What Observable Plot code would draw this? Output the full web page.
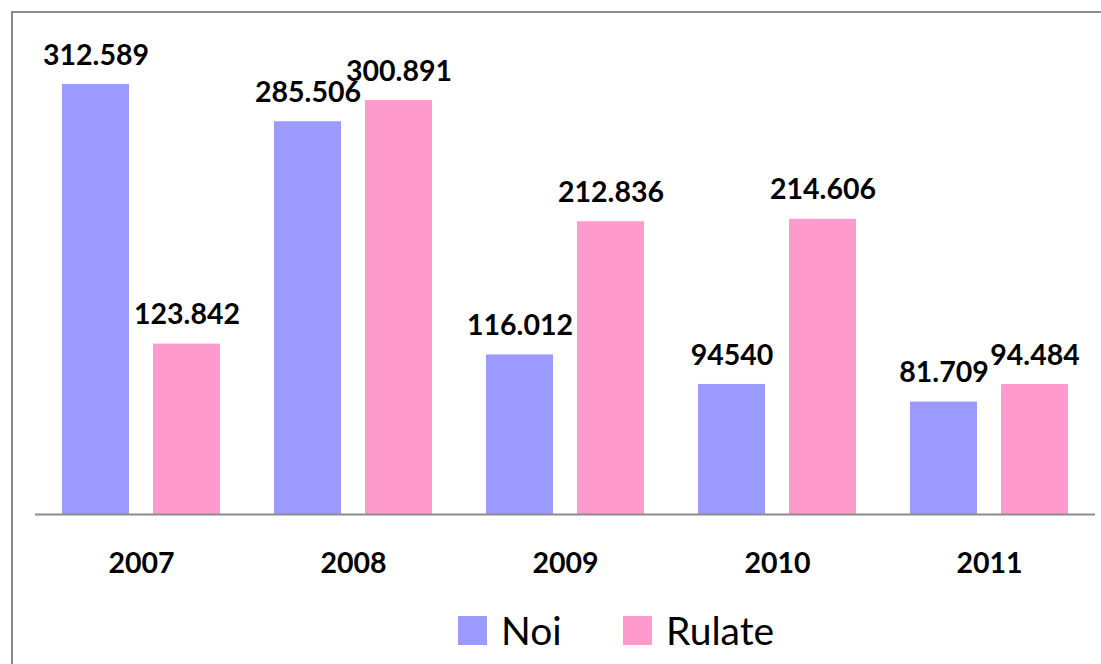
<!DOCTYPE html>
<html>
<head>
<meta charset="utf-8">
<script src="https://cdn.jsdelivr.net/npm/d3@7"></script>
<script src="https://cdn.jsdelivr.net/npm/@observablehq/plot@0.6"></script>
<style>
  html, body { margin: 0; padding: 0; background: #fff; overflow: hidden; }
  body { width: 1101px; height: 664px; position: relative; font-family: Lato, "Open Sans", sans-serif; }
  #frame { position: absolute; left: 11px; top: 11px; width: 1200px; height: 800px;
           border-left: 2px solid #8c8c8c; border-top: 2px solid #8c8c8c; pointer-events: none; }
  #legend { position: relative; height: 64px; width: 1101px; }
  .sw { position: absolute; width: 29px; height: 29px; top: 16px; }
  .lt { position: absolute; top: 7px; font-size: 39px; line-height: 46px; color: #000; }
</style>
</head>
<body>
<div id="chart"></div>
<div id="legend"></div>
<div id="frame"></div>
<script>
const years = ["2007", "2008", "2009", "2010", "2011"];
const series = ["Noi", "Rulate"];
const noiValues = [312.589, 285.506, 116.012, 94.540, 81.709];
const rulateValues = [123.842, 300.891, 212.836, 214.606, 94.484];
const noiLabels = ["312.589", "285.506", "116.012", "94540", "81.709"];
const rulateLabels = ["123.842", "300.891", "212.836", "214.606", "94.484"];
const colors = ["#9b9bff", "#ff9bcc"];

const data = [];
years.forEach((y, i) => {
  data.push({year: y, series: "Noi", value: noiValues[i], label: noiLabels[i]});
  data.push({year: y, series: "Rulate", value: rulateValues[i], label: rulateLabels[i]});
});

const font = "Lato, 'Open Sans', sans-serif";

const chart = Plot.plot({
  width: 1101,
  height: 600,
  marginLeft: 33,
  marginRight: 5,
  marginTop: 32.5,
  marginBottom: 86,
  style: {fontFamily: font, background: "transparent"},
  fx: {domain: years, padding: 0, label: null},
  x: {domain: series, paddingInner: 0.26, paddingOuter: 0.29, axis: null},
  y: {domain: [0, 350], axis: null},
  color: {domain: series, range: colors},
  marks: [
    Plot.barY(data, {fx: "year", x: "series", y: "value", fill: "series"}),
    Plot.ruleY([0], {stroke: "#8c8c8c", strokeWidth: 2}),
    Plot.text(data, {fx: "year", x: "series", y: "value", text: "label", dy: -29,
      fontSize: 28.5, fontWeight: "bold", fill: "#000", fontFamily: font}),
    Plot.axisFx({anchor: "bottom", tickSize: 0, tickPadding: 38, fontSize: 28.5,
      fontWeight: "bold", fill: "#000", label: null, fontFamily: font})
  ]
});
document.getElementById("chart").appendChild(chart);

const legend = document.getElementById("legend");
const swLeft = [458, 623];
const txtLeft = [501, 666];
series.forEach((s, i) => {
  const sw = document.createElement("div");
  sw.className = "sw";
  sw.style.left = swLeft[i] + "px";
  sw.style.background = colors[i];
  legend.appendChild(sw);
  const t = document.createElement("div");
  t.className = "lt";
  t.style.left = txtLeft[i] + "px";
  t.textContent = s;
  legend.appendChild(t);
});
</script>
</body>
</html>
